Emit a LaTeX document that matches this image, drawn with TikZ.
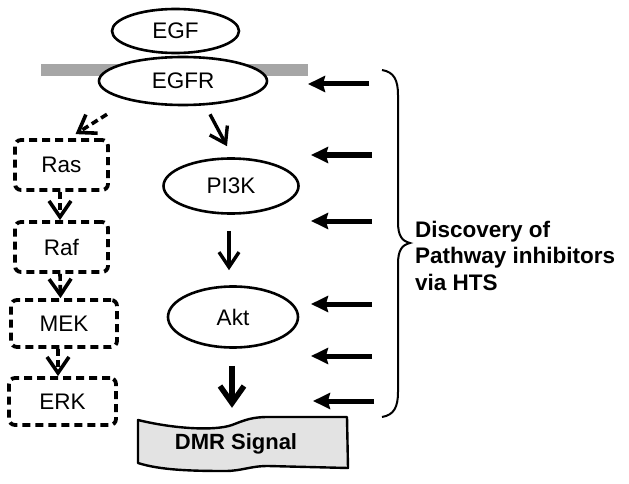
\documentclass[tikz,border=0pt]{standalone}
\usepackage{fontspec}
\setmainfont{Liberation Sans}
\usetikzlibrary{shapes.geometric,arrows.meta}
\begin{document}
\begin{tikzpicture}[x=1pt,y=-1pt,
  ell/.style={ellipse, draw, line width=2.6pt, fill=white, inner sep=0pt, font=\fontsize{22.5}{26}\selectfont},
  dbox/.style={rectangle, rounded corners=6pt, draw, dash pattern=on 8pt off 5pt, line width=3.8pt, inner sep=0pt, font=\fontsize{22.5}{26}\selectfont},
  varr/.style={-{Straight Barb[length=15pt,width=20pt,line width=3.4pt]}, line width=3.4pt},
  dvarr/.style={-{Straight Barb[length=16pt,width=22pt,line width=3.6pt]}, line width=3.6pt, dash pattern=on 7pt off 4pt},
  bigarr/.style={-{Straight Barb[length=17pt,width=24pt,line width=5.5pt]}, line width=6.5pt},
  inh/.style={-{Stealth[length=17pt,width=16pt,inset=2pt]}, line width=5pt},
  lbl/.style={anchor=base west, inner sep=0pt, font=\bfseries\fontsize{22.5}{27}\selectfont}
]
\useasboundingbox (0,0) rectangle (629,484);
% membrane
\fill[gray!70] (41,64) rectangle (308,76);
% nodes
\node[ell, minimum width=127pt, minimum height=44pt] (egf) at (175.5,31) {EGF};
\node[ell, minimum width=168pt, minimum height=48pt] (egfr) at (183,81) {EGFR};
\node[ell, minimum width=135pt, minimum height=55pt] (pi3k) at (231,186) {PI3K};
\node[ell, minimum width=130pt, minimum height=61pt] (akt) at (233,317) {Akt};
\node[dbox, minimum width=93pt, minimum height=50pt] (ras) at (61.5,165) {Ras};
\node[dbox, minimum width=93pt, minimum height=50pt] (raf) at (61.5,247) {Raf};
\node[dbox, minimum width=106pt, minimum height=47pt] (mek) at (64,323.5) {MEK};
\node[dbox, minimum width=107pt, minimum height=47pt] (erk) at (62.5,401.5) {ERK};
% DMR banner
\fill[gray!22] (138,420) .. controls (175,429) and (215,431) .. (232,425)
  .. controls (245,420) and (252,417) .. (268,417) -- (347,417) -- (348,468)
  -- (268,466) .. controls (250,466) and (242,471) .. (225,471)
  .. controls (190,471) and (160,470) .. (138,463) -- cycle;
\draw[line width=2.4pt, line join=round] (138,420) .. controls (175,429) and (215,431) .. (232,425)
  .. controls (245,420) and (252,417) .. (268,417) -- (347,417) -- (348,468)
  -- (268,466) .. controls (250,466) and (242,471) .. (225,471)
  .. controls (190,471) and (160,470) .. (138,463) -- cycle;
\node[minimum height=50pt, inner sep=0pt, font=\bfseries\fontsize{22}{26}\selectfont] (dmr) at (236,444) {DMR Signal};
% pathway arrows
\draw[dvarr] ([shift={(-76,8)}]egfr.south) -- ([shift={(14,-4)}]ras.north);
\draw[varr] ([shift={(27,8)}]egfr.south) -- ([shift={(-4,-11)}]pi3k.north);
\draw[varr, shorten <=16pt, shorten >=15pt] ([xshift=-2pt]pi3k.south) -- ([xshift=-2pt]pi3k.south |- akt.north);
\draw[bigarr, shorten <=17pt, shorten >=11pt] ([xshift=-1pt]akt.south) -- ([xshift=-1pt]akt.south |- dmr.north);
\draw[dvarr] ([xshift=-1.5pt]ras.south) -- ([xshift=-1.5pt]raf.north);
\draw[dvarr] ([xshift=-1.5pt]raf.south) -- ([xshift=-3.5pt]mek.north);
\draw[dvarr] ([xshift=-6pt]mek.south) -- ([xshift=-4.5pt]erk.north);
% inhibitor arrows
\foreach \i/\y/\t in {1/84/308,2/155/311,3/221/311,4/304/311,5/356/311,6/401/313} {
  \coordinate (s\i) at (\t+61,\y);
  \coordinate (e\i) at (\t,\y);
  \draw[inh] (s\i) -- (e\i);
}
% brace
\draw[line width=2pt] (382,70) .. controls (394,72) and (398,80) .. (398,95) -- (398,222)
  .. controls (398,236) and (402,241) .. (410,243)
  .. controls (402,245) and (398,250) .. (398,264) -- (398,392)
  .. controls (398,407) and (394,415) .. (382,417);
% label
\node[lbl] (t1) at (415,237) {Discovery of};
\node[lbl] (t2) at (415,263) {Pathway inhibitors};
\node[lbl] (t3) at (415,290) {via HTS};
\end{tikzpicture}
\end{document}
